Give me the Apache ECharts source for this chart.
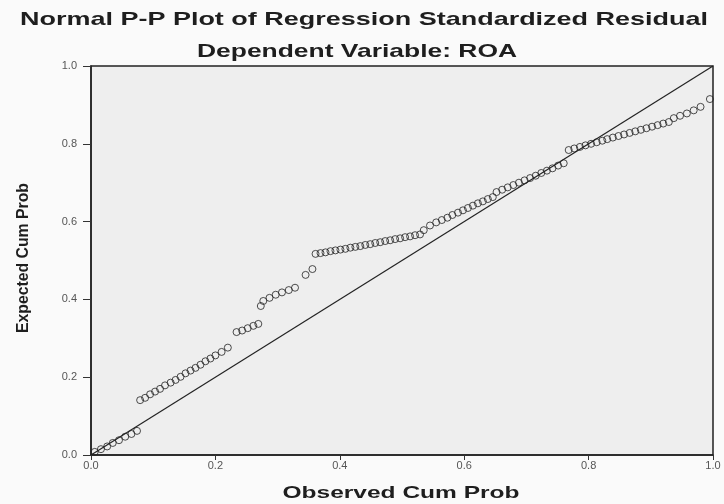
<!DOCTYPE html>
<html>
<head>
<meta charset="utf-8">
<script src="https://cdn.jsdelivr.net/npm/echarts@6/dist/echarts.min.js"></script>
<style>html,body{margin:0;padding:0;background:#fafafa;}#c{width:724px;height:504px;}</style>
</head>
<body>
<div id="c"></div>
<script>
var titleText = "Normal P-P Plot of Regression Standardized Residual";
var subtitleText = "Dependent Variable: ROA";
var xAxisName = "Observed Cum Prob";
var yAxisName = "Expected Cum Prob";
var tickValues = [0.0, 0.2, 0.4, 0.6, 0.8, 1.0];
var referenceLine = [[0, 0], [1, 1]];
// observed cum prob, expected cum prob
var residualPoints = [
  [0.006,0.008],[0.016,0.015],[0.026,0.022],[0.035,0.031],[0.045,0.038],[0.055,0.047],[0.065,0.054],[0.074,0.062],
  [0.079,0.141],[0.087,0.147],[0.095,0.156],[0.103,0.163],[0.111,0.170],[0.119,0.179],[0.128,0.186],[0.136,0.193],
  [0.144,0.201],[0.152,0.210],[0.160,0.217],[0.168,0.224],[0.176,0.232],[0.184,0.241],[0.192,0.248],[0.200,0.256],
  [0.210,0.265],[0.220,0.276],
  [0.234,0.316],[0.243,0.320],[0.252,0.326],[0.261,0.332],[0.269,0.337],[0.273,0.383],
  [0.277,0.396],[0.287,0.404],[0.297,0.412],[0.307,0.418],[0.318,0.424],[0.328,0.430],
  [0.345,0.463],[0.356,0.478],
  [0.361,0.517],[0.369,0.519],[0.377,0.521],[0.385,0.524],[0.393,0.526],[0.401,0.528],[0.409,0.530],[0.417,0.533],
  [0.425,0.535],[0.433,0.537],[0.441,0.540],[0.449,0.542],[0.457,0.545],[0.465,0.547],[0.473,0.550],[0.481,0.552],
  [0.489,0.555],[0.497,0.557],[0.505,0.560],[0.513,0.562],[0.521,0.565],[0.529,0.567],
  [0.535,0.578],[0.545,0.590],[0.555,0.598],[0.564,0.604],[0.573,0.610],[0.581,0.617],[0.590,0.623],[0.598,0.629],
  [0.606,0.635],[0.614,0.641],[0.622,0.647],[0.630,0.652],[0.638,0.658],[0.646,0.663],
  [0.652,0.676],[0.661,0.682],[0.670,0.688],[0.679,0.694],[0.688,0.700],[0.697,0.706],[0.706,0.712],[0.715,0.718],
  [0.724,0.725],[0.733,0.731],[0.742,0.737],[0.751,0.744],[0.760,0.750],
  [0.768,0.784],[0.777,0.788],[0.786,0.792],[0.795,0.796],[0.804,0.800],[0.813,0.804],[0.822,0.808],[0.830,0.812],
  [0.839,0.816],[0.848,0.820],[0.857,0.824],[0.866,0.828],[0.875,0.832],[0.884,0.836],[0.893,0.840],[0.902,0.844],
  [0.911,0.848],[0.920,0.852],[0.929,0.856],
  [0.937,0.866],[0.947,0.872],[0.958,0.878],[0.969,0.886],[0.980,0.895],[0.995,0.915]
];

var measureCtx = document.createElement('canvas').getContext('2d');
function fitScale(text, font, target) {
  measureCtx.font = font;
  return target / measureCtx.measureText(text).width;
}
function stretchedText(text, cx, cy, size, weight, family, targetWidth, rot) {
  var font = weight + ' ' + size + 'px ' + family;
  return {
    type: 'text', x: cx, y: cy, rotation: rot || 0,
    scaleX: fitScale(text, font, targetWidth), silent: true,
    style: {text: text, x: 0, y: 0, align: 'center', verticalAlign: 'middle',
            font: font, fill: '#1e1e1e'}
  };
}

var chart = echarts.init(document.getElementById('c'), null, {renderer: 'canvas'});
var fmt = function (v) { return v.toFixed(1); };
chart.setOption({
  animation: false,
  backgroundColor: '#fafafa',
  grid: {left: 91, right: 11, top: 66, bottom: 49, show: true, backgroundColor: '#eeeeee',
         borderColor: '#222', borderWidth: 1.5},
  xAxis: {
    type: 'value', min: 0, max: 1, interval: 0.2,
    axisLine: {lineStyle: {color: '#222', width: 1.5}},
    axisTick: {show: true, length: 5, lineStyle: {color: '#333'}},
    axisLabel: {formatter: fmt, fontFamily: 'Liberation Sans', fontSize: 11, color: '#555', margin: 5},
    splitLine: {show: false}
  },
  yAxis: {
    type: 'value', min: 0, max: 1, interval: 0.2,
    axisLine: {show: true, lineStyle: {color: '#222', width: 1.5}},
    axisTick: {show: true, length: 8, lineStyle: {color: '#333'}},
    axisLabel: {formatter: fmt, fontFamily: 'Liberation Sans', fontSize: 11, color: '#555', margin: 14},
    splitLine: {show: false}
  },
  graphic: [
    stretchedText(titleText, 364, 20, 19, 'bold', 'Liberation Sans', 688),
    stretchedText(subtitleText, 357, 52, 19, 'bold', 'Liberation Sans', 320),
    stretchedText(xAxisName, 401, 493, 17, 'bold', 'Liberation Sans', 237),
    stretchedText(yAxisName, 24, 258, 16, 'bold', 'Liberation Sans', 150, Math.PI / 2)
  ],
  series: [
    {type: 'line', data: referenceLine, symbol: 'none', silent: true,
     lineStyle: {color: '#222', width: 1.2}},
    {type: 'scatter', data: residualPoints, symbol: 'circle', symbolSize: 7,
     itemStyle: {color: 'rgba(0,0,0,0)', borderColor: '#222', borderWidth: 1}}
  ]
});
</script>
</body>
</html>
